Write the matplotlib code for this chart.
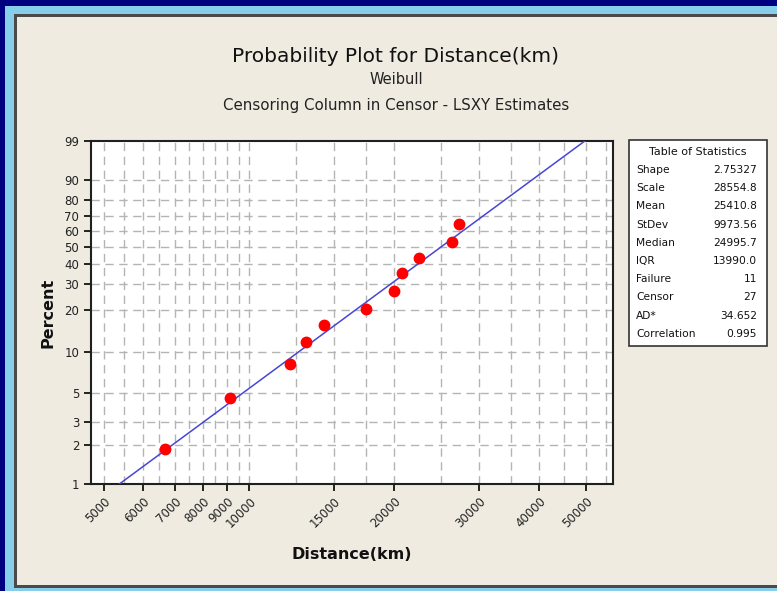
import matplotlib
matplotlib.use("Agg")
import matplotlib.pyplot as plt
import numpy as np
from matplotlib.patches import Rectangle

# ---------------------------------------------------------------------------
# Data
# ---------------------------------------------------------------------------

DISTANCE = [6670, 9100, 12120, 13110, 14260, 17450, 19990, 20700, 22520, 26400, 27250]
PERCENT = [1.85, 4.6, 8.2, 11.9, 15.9, 20.4, 27.1, 35.2, 43.6, 53.1, 64.9]

SHAPE = 2.75327
SCALE = 28554.8

X_TICKS = [5000, 6000, 7000, 8000, 9000, 10000, 15000, 20000, 30000, 40000, 50000]
X_GRID = [5000, 5500, 6000, 6500, 7000, 7500, 8000, 8500, 9000, 9500, 10000,
          12500, 15000, 17500, 20000, 25000, 30000, 35000, 40000, 45000, 50000, 55000]
Y_TICKS = [1, 2, 3, 5, 10, 20, 30, 40, 50, 60, 70, 80, 90, 99]

STAT_NAMES = ["Shape", "Scale", "Mean", "StDev", "Median", "IQR",
              "Failure", "Censor", "AD*", "Correlation"]
STAT_VALUES = ["2.75327", "28554.8", "25410.8", "9973.56", "24995.7", "13990.0",
               "11", "27", "34.652", "0.995"]

# ---------------------------------------------------------------------------
# Figure + frame
# ---------------------------------------------------------------------------

W, H = 777, 591
fig = plt.figure(figsize=(W / 100, H / 100), dpi=100)
fig.patch.set_facecolor("#000080")
plt.rcParams["font.family"] = "DejaVu Sans"


def px_rect(x0, y0, x1, y1, color):
    # rectangle given in pixel coords (origin top-left)
    fig.patches.append(Rectangle((x0 / W, 1 - y1 / H), (x1 - x0) / W, (y1 - y0) / H,
                                 transform=fig.transFigure, facecolor=color,
                                 edgecolor="none", zorder=-10))


px_rect(5, 6, W, H, "#87CEEB")
px_rect(14, 14, W, 588, "#4a4a4a")
px_rect(17, 17, W, 585, "#EFEBE1")

# ---------------------------------------------------------------------------
# Axes
# ---------------------------------------------------------------------------

left, right, top, bottom = 91, 613, 141, 484
ax = fig.add_axes([left / W, 1 - bottom / H, (right - left) / W, (bottom - top) / H])
ax.set_facecolor("white")


def fwd(p):
    p = np.clip(np.asarray(p, dtype=float), 1e-6, 100 - 1e-6) / 100
    return np.log(-np.log(1 - p))


def inv(z):
    return 100 * (1 - np.exp(-np.exp(z)))


ax.set_xscale("log")
ax.set_yscale("function", functions=(fwd, inv))
ax.set_xlim(4690, 56900)
ax.set_ylim(1, 99)

# fitted Weibull line from the table parameters
p_line = np.linspace(1, 99, 300)
x_line = SCALE * (-np.log(1 - p_line / 100)) ** (1 / SHAPE)
ax.plot(x_line, p_line, color="#4646d6", lw=1.1, zorder=3)

ax.plot(DISTANCE, PERCENT, "o", color="#ff0000", ms=7.5, mec="#ff0000", zorder=4)

# grid
grid_kw = dict(color="#b4b4b4", lw=1, linestyle=(0, (6, 4)), zorder=1)
for gx in X_GRID:
    ax.axvline(gx, **grid_kw)
for gy in Y_TICKS[1:-1]:
    ax.axhline(gy, **grid_kw)

ax.set_xticks(X_TICKS)
ax.set_xticklabels([str(v) for v in X_TICKS], rotation=45, ha="right",
                   rotation_mode="anchor", fontsize=8.5, color="#222222")
ax.xaxis.set_minor_locator(matplotlib.ticker.NullLocator())
ax.set_yticks(Y_TICKS)
ax.set_yticklabels([str(v) for v in Y_TICKS], fontsize=8.5, color="#222222")
ax.yaxis.set_minor_locator(matplotlib.ticker.NullLocator())
ax.tick_params(direction="out", length=5, width=1.2, color="black")
ax.tick_params(axis="x", pad=3)
for spine in ax.spines.values():
    spine.set_linewidth(1.5)
    spine.set_edgecolor("#202020")

ax.set_xlabel("Distance(km)", fontsize=11.5, fontweight="bold", color="#111111", labelpad=12)
ax.set_ylabel("Percent", fontsize=11.5, fontweight="bold", color="#111111", labelpad=6)

# titles
fig.text(396 / W, 1 - 57 / H, "Probability Plot for Distance(km)", ha="center", va="center",
         fontsize=14.5, color="#111111")
fig.text(396 / W, 1 - 80 / H, "Weibull", ha="center", va="center", fontsize=10.5, color="#222222")
fig.text(396 / W, 1 - 106 / H, "Censoring Column in Censor - LSXY Estimates",
         ha="center", va="center", fontsize=10.8, color="#222222")

# ---------------------------------------------------------------------------
# Table of statistics
# ---------------------------------------------------------------------------

bx0, by0, bx1, by1 = 629, 140, 767, 346
fig.patches.append(Rectangle((bx0 / W, 1 - by1 / H), (bx1 - bx0) / W, (by1 - by0) / H,
                             transform=fig.transFigure, facecolor="white",
                             edgecolor="#333333", lw=1.2, zorder=1))
fig.text((bx0 + bx1) / 2 / W, 1 - 152 / H, "Table of Statistics", ha="center", va="center",
         fontsize=8, color="#111111")
for i, (name, val) in enumerate(zip(STAT_NAMES, STAT_VALUES)):
    y = 170 + i * 18.2
    fig.text(636 / W, 1 - y / H, name, ha="left", va="center", fontsize=7.7, color="#111111")
    fig.text(757 / W, 1 - y / H, val, ha="right", va="center", fontsize=7.7, color="#111111")

fig.savefig("out.png", dpi=100, facecolor=fig.get_facecolor())
